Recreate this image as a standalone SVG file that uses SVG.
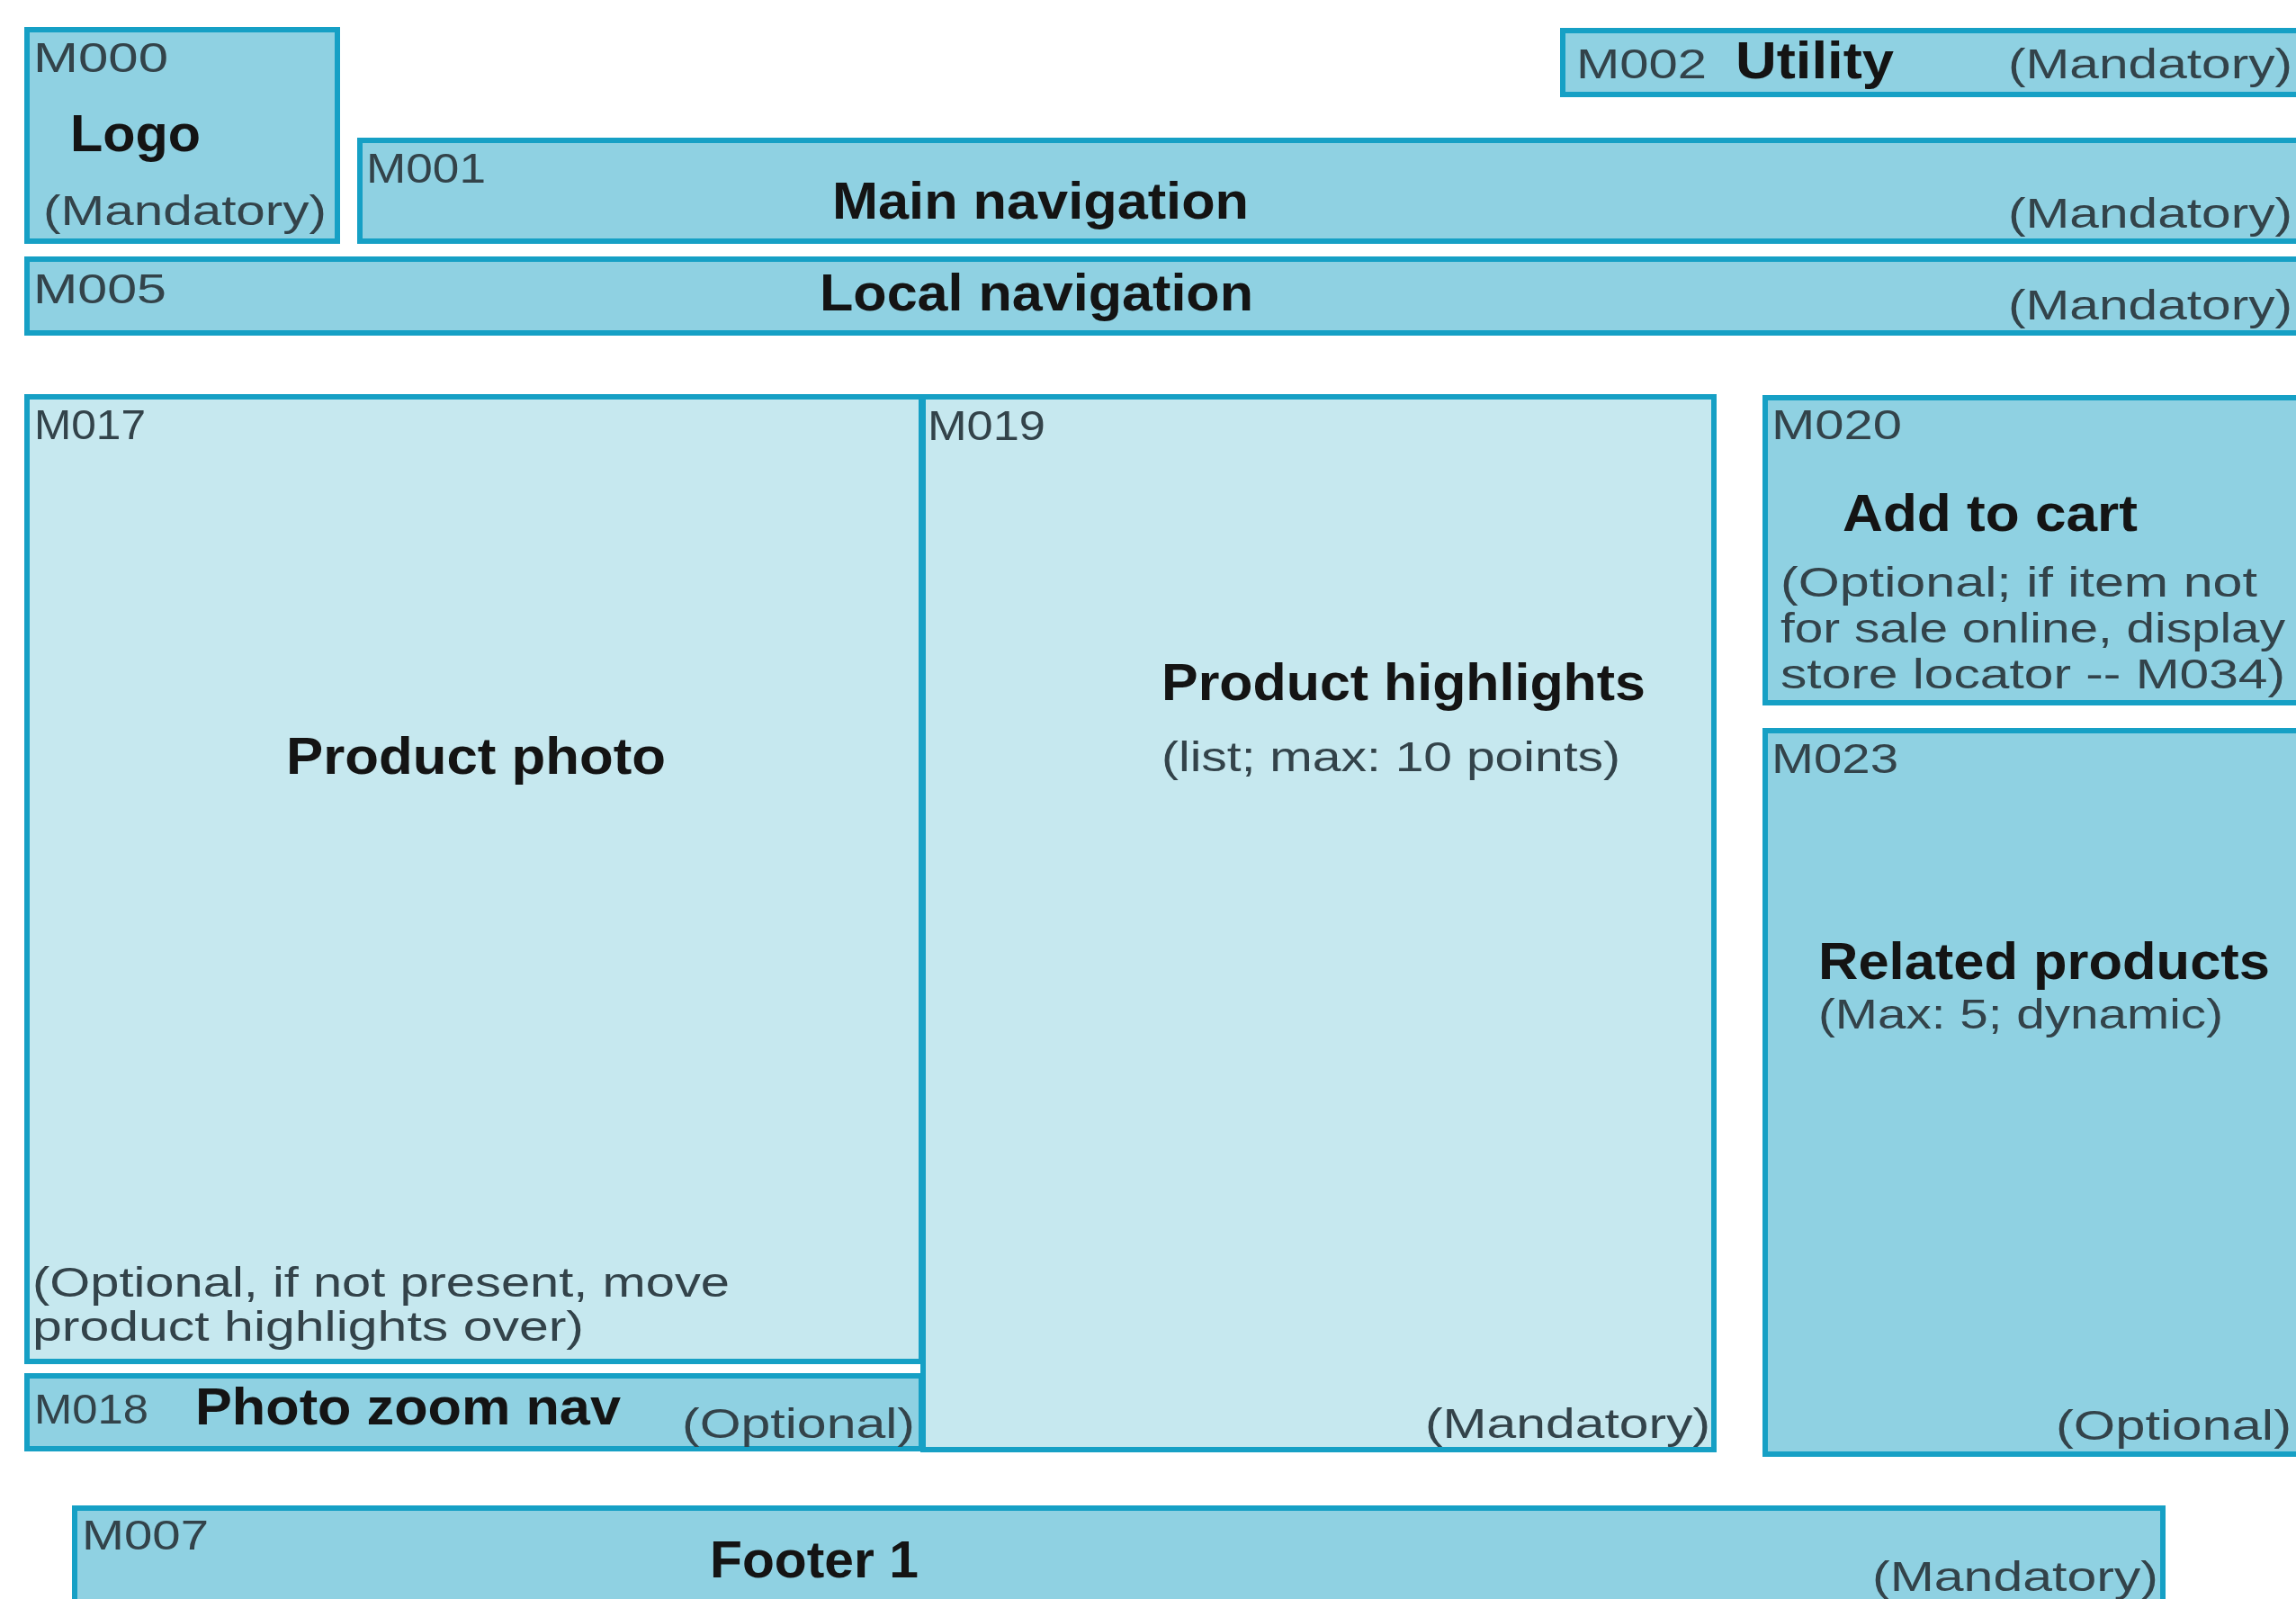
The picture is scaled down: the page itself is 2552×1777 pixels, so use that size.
<svg xmlns="http://www.w3.org/2000/svg" width="2552" height="1777" viewBox="0 0 2552 1777">
<style>
.box{stroke:#16a0c5;stroke-width:6}
.dark{fill:#8fd1e2}
.light{fill:#c6e8ef}
text{font-family:"Liberation Sans",Arial,sans-serif}
.id{font-size:47px;fill:#33434a}
.title{font-size:58px;font-weight:bold;fill:#141414}
.note{font-size:47px;fill:#33434a}
</style>
<rect width="2552" height="1777" fill="#ffffff"/>
<g id="M000">
<rect class="box dark" x="30" y="33" width="345" height="235"/>
<text class="id" x="37" y="80" textLength="150" lengthAdjust="spacingAndGlyphs">M000</text>
<text class="title" x="78" y="168" textLength="145" lengthAdjust="spacingAndGlyphs">Logo</text>
<text class="note" x="48" y="250" textLength="315" lengthAdjust="spacingAndGlyphs">(Mandatory)</text>
</g>
<g id="M002">
<rect class="box dark" x="1737" y="34" width="830" height="71"/>
<text class="id" x="1752" y="87" textLength="145" lengthAdjust="spacingAndGlyphs">M002</text>
<text class="title" x="1929" y="87" textLength="176" lengthAdjust="spacingAndGlyphs">Utility</text>
<text class="note" x="2232" y="87" textLength="316" lengthAdjust="spacingAndGlyphs">(Mandatory)</text>
</g>
<g id="M001">
<rect class="box dark" x="400" y="156" width="2170" height="112"/>
<text class="id" x="407" y="203" textLength="133" lengthAdjust="spacingAndGlyphs">M001</text>
<text class="title" x="925" y="243" textLength="463" lengthAdjust="spacingAndGlyphs">Main navigation</text>
<text class="note" x="2232" y="253" textLength="316" lengthAdjust="spacingAndGlyphs">(Mandatory)</text>
</g>
<g id="M005">
<rect class="box dark" x="30" y="288" width="2540" height="82"/>
<text class="id" x="37" y="337" textLength="148" lengthAdjust="spacingAndGlyphs">M005</text>
<text class="title" x="911" y="345" textLength="482" lengthAdjust="spacingAndGlyphs">Local navigation</text>
<text class="note" x="2232" y="355" textLength="316" lengthAdjust="spacingAndGlyphs">(Mandatory)</text>
</g>
<g id="M017">
<rect class="box light" x="30" y="441" width="994" height="1072"/>
<text class="id" x="38" y="488" textLength="124" lengthAdjust="spacingAndGlyphs">M017</text>
<text class="title" x="318" y="860" textLength="422" lengthAdjust="spacingAndGlyphs">Product photo</text>
<text class="note" x="36" y="1441" textLength="775" lengthAdjust="spacingAndGlyphs">(Optional, if not present, move</text>
<text class="note" x="36" y="1490" textLength="613" lengthAdjust="spacingAndGlyphs">product highlights over)</text>
</g>
<g id="M018">
<rect class="box dark" x="30" y="1529" width="994" height="81"/>
<text class="id" x="38" y="1582" textLength="127" lengthAdjust="spacingAndGlyphs">M018</text>
<text class="title" x="217" y="1583" textLength="473" lengthAdjust="spacingAndGlyphs">Photo zoom nav</text>
<text class="note" x="758" y="1598" textLength="259" lengthAdjust="spacingAndGlyphs">(Optional)</text>
</g>
<g id="M019">
<rect class="box light" x="1026" y="441" width="879" height="1170"/>
<text class="id" x="1031" y="489" textLength="131" lengthAdjust="spacingAndGlyphs">M019</text>
<text class="title" x="1291" y="778" textLength="538" lengthAdjust="spacingAndGlyphs">Product highlights</text>
<text class="note" x="1291" y="857" textLength="510" lengthAdjust="spacingAndGlyphs">(list; max: 10 points)</text>
<text class="note" x="1584" y="1598" textLength="317" lengthAdjust="spacingAndGlyphs">(Mandatory)</text>
</g>
<g id="M020">
<rect class="box dark" x="1962" y="442" width="610" height="339"/>
<text class="id" x="1969" y="488" textLength="145" lengthAdjust="spacingAndGlyphs">M020</text>
<text class="title" x="2048" y="590" textLength="328" lengthAdjust="spacingAndGlyphs">Add to cart</text>
<text class="note" x="1979" y="663" textLength="530" lengthAdjust="spacingAndGlyphs">(Optional; if item not</text>
<text class="note" x="1979" y="714" textLength="561" lengthAdjust="spacingAndGlyphs">for sale online, display</text>
<text class="note" x="1979" y="765" textLength="561" lengthAdjust="spacingAndGlyphs">store locator -- M034)</text>
</g>
<g id="M023">
<rect class="box dark" x="1962" y="812" width="610" height="804"/>
<text class="id" x="1969" y="859" textLength="141" lengthAdjust="spacingAndGlyphs">M023</text>
<text class="title" x="2021" y="1088" textLength="502" lengthAdjust="spacingAndGlyphs">Related products</text>
<text class="note" x="2021" y="1143" textLength="450" lengthAdjust="spacingAndGlyphs">(Max: 5; dynamic)</text>
<text class="note" x="2285" y="1600" textLength="262" lengthAdjust="spacingAndGlyphs">(Optional)</text>
</g>
<g id="M007">
<rect class="box dark" x="83" y="1676" width="2321" height="120"/>
<text class="id" x="91" y="1722" textLength="141" lengthAdjust="spacingAndGlyphs">M007</text>
<text class="title" x="789" y="1753" textLength="232" lengthAdjust="spacingAndGlyphs">Footer 1</text>
<text class="note" x="2081" y="1768" textLength="318" lengthAdjust="spacingAndGlyphs">(Mandatory)</text>
</g>
<g id="connectors"/>
</svg>
